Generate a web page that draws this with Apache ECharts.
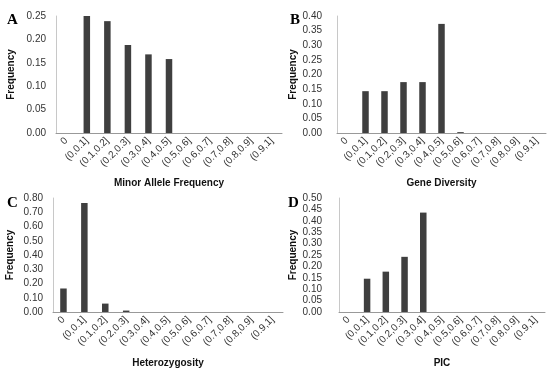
<!DOCTYPE html>
<html>
<head>
<meta charset="utf-8">
<script src="https://cdn.jsdelivr.net/npm/echarts@6/dist/echarts.min.js"></script>
<style>html,body{margin:0;padding:0;background:#fff}#c{width:550px;height:369px}</style>
</head>
<body>
<div id="c"></div>
<script>
const categories = ["0","(0,0.1]","(0.1,0.2]","(0.2,0.3]","(0.3,0.4]","(0.4,0.5]","(0.5,0.6]","(0.6,0.7]","(0.7,0.8]","(0.8,0.9]","(0.9,1]"];
const mafValues = [0, 0.250, 0.239, 0.188, 0.168, 0.158, 0, 0, 0, 0, 0];
const gdValues  = [0, 0.143, 0.143, 0.174, 0.174, 0.373, 0.003, 0, 0, 0, 0];
const hetValues = [0.165, 0.765, 0.059, 0.010, 0, 0, 0, 0, 0, 0, 0];
const picValues = [0, 0.146, 0.177, 0.242, 0.436, 0, 0, 0, 0, 0, 0];
const panelLetters = ["A","B","C","D"];
const xTitles = ["Minor Allele Frequency","Gene Diversity","Heterozygosity","PIC"];
const yTitle = "Frequency";
const yMax = [0.25, 0.40, 0.80, 0.50];
const yStep = [0.05, 0.05, 0.10, 0.05];

const panels = [mafValues, gdValues, hetValues, picValues];
const grids = [
  {left:56, top:16, width:226, height:117},
  {left:337, top:16, width:209, height:117},
  {left:53, top:198, width:230, height:114},
  {left:339, top:198, width:206, height:115}
];
const yLabelMargin = [10, 15, 10, 17];
const yNameGap = [40, 39, 38, 39];
const xNameGap = [45, 45, 46, 46];
const font = "Liberation Sans, Arial, sans-serif";

const chart = echarts.init(document.getElementById('c'), null, {renderer:'canvas'});
const option = {
  animation:false,
  backgroundColor:'#fff',
  grid: grids.map(g => Object.assign({containLabel:false}, g)),
  graphic: panelLetters.map((t,i) => ({
    type:'text',
    left: [7, 290, 7, 288][i],
    top: [13, 13, 196, 196][i],
    style:{text:t, font:'bold 15px "Liberation Serif", "Times New Roman", serif', fill:'#000'}
  })),
  xAxis: panels.map((p,i) => ({
    type:'category', gridIndex:i, data:categories,
    axisTick:{show:false},
    axisLine:{lineStyle:{color:'#999999', width:1}},
    axisLabel:{rotate:45, interval:0, fontSize:10, color:'#333', fontFamily:font, margin:6},
    name:xTitles[i], nameLocation:'middle', nameGap:xNameGap[i],
    nameTextStyle:{fontSize:10, fontWeight:'bold', color:'#111', fontFamily:font}
  })),
  yAxis: panels.map((p,i) => ({
    type:'value', gridIndex:i, min:0, max:yMax[i], interval:yStep[i],
    splitLine:{show:false},
    axisTick:{show:false},
    axisLine:{show:true, lineStyle:{color:'#c8c8c8', width:1}},
    axisLabel:{fontSize:10, color:'#333', fontFamily:font, margin:yLabelMargin[i],
      formatter: v => v.toFixed(2)},
    name:yTitle, nameLocation:'middle', nameGap:yNameGap[i],
    nameTextStyle:{fontSize:10, fontWeight:'bold', color:'#111', fontFamily:font}
  })),
  series: panels.map((p,i) => ({
    type:'bar', xAxisIndex:i, yAxisIndex:i, data:p, barWidth:6.5,
    itemStyle:{color:'#3f3f3f'}
  }))
};
chart.setOption(option);
</script>
</body>
</html>
